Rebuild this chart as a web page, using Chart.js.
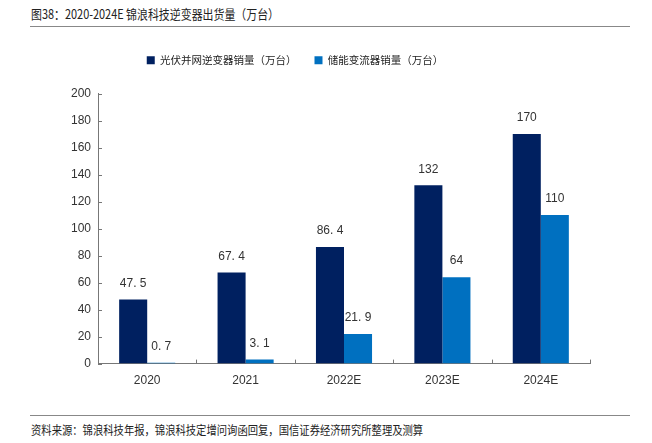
<!DOCTYPE html>
<html>
<head>
<meta charset="utf-8">
<script src="https://cdn.jsdelivr.net/npm/chart.js@4.4.0/dist/chart.umd.min.js"></script>
<style>
  body { margin: 0; background: #fff; font-family: "Noto Sans CJK SC", sans-serif; }
  #wrap { position: relative; width: 652px; height: 443px; }
  #title { position: absolute; left: 31px; top: 4px; font-size: 13px; color: #222; white-space: nowrap;
           transform: scaleX(0.84); transform-origin: left top; }
  .rule { position: absolute; left: 30px; width: 600px; height: 1px; background: #888; }
  #source { position: absolute; left: 31px; top: 421px; font-size: 12px; color: #222; white-space: nowrap;
            transform: scaleX(0.86); transform-origin: left top; }
  #cv { position: absolute; left: 0; top: 0; }
</style>
</head>
<body>
<div id="wrap">
  <div id="title">图38：2020-2024E 锦浪科技逆变器出货量（万台）</div>
  <div class="rule" style="top:26px"></div>
  <canvas id="cv" width="652" height="410"></canvas>
  <div class="rule" style="top:415px"></div>
  <div id="source">资料来源：锦浪科技年报，锦浪科技定增问询函回复，国信证券经济研究所整理及测算</div>
</div>
<script>
// categorias y series
const anios = ["2020", "2021", "2022E", "2023E", "2024E"];
const nombreFV = "光伏并网逆变器销量（万台）";
const nombreAlm = "储能变流器销量（万台）";
const ventasFV = [47.5, 67.4, 86.4, 132, 170];
const ventasAlm = [0.7, 3.1, 21.9, 64, 110];
const etiquetasFV = ["47. 5", "67. 4", "86. 4", "132", "170"];
const etiquetasAlm = ["0. 7", "3. 1", "21. 9", "64", "110"];

// espacio extra debajo de la leyenda
const leyendaPlugin = {
  id: "leyendaAlta",
  beforeInit(chart) {
    const fitOriginal = chart.legend.fit;
    chart.legend.fit = function () {
      fitOriginal.bind(chart.legend)();
      this.height += 18;
    };
  }
};

// etiquetas de valores sobre las barras
const valoresPlugin = {
  id: "valores",
  afterDatasetsDraw(chart) {
    const ctx = chart.ctx;
    const listas = [etiquetasFV, etiquetasAlm];
    ctx.save();
    ctx.font = "12px 'Liberation Sans', Arial, sans-serif";
    ctx.fillStyle = "#333";
    ctx.textAlign = "center";
    ctx.textBaseline = "bottom";
    chart.data.datasets.forEach((ds, i) => {
      chart.getDatasetMeta(i).data.forEach((bar, j) => {
        ctx.fillText(listas[i][j], bar.x, bar.y - 10);
      });
    });
    ctx.restore();
  }
};

// marcas hacia dentro en los ejes
const marcasPlugin = {
  id: "marcas",
  afterDraw(chart) {
    const ctx = chart.ctx;
    const x = chart.scales.x, y = chart.scales.y;
    const area = chart.chartArea;
    ctx.save();
    ctx.strokeStyle = "#777";
    ctx.lineWidth = 1;
    ctx.beginPath();
    y.ticks.forEach((t) => {
      const py = Math.round(y.getPixelForValue(t.value)) + 0.5;
      ctx.moveTo(area.left, py);
      ctx.lineTo(area.left + 4, py);
    });
    for (let i = 0; i <= anios.length; i++) {
      const px = Math.round(x.getPixelForValue(i - 0.5)) + 0.5;
      ctx.moveTo(px, area.bottom);
      ctx.lineTo(px, area.bottom - 4);
    }
    ctx.stroke();
    ctx.restore();
  }
};

new Chart(document.getElementById("cv"), {
  type: "bar",
  data: {
    labels: anios,
    datasets: [
      { label: nombreFV, data: ventasFV, backgroundColor: "#002060" },
      { label: nombreAlm, data: ventasAlm, backgroundColor: "#0070C0" }
    ]
  },
  options: {
    responsive: false,
    animation: false,
    layout: { padding: { top: 37, right: 62, bottom: 12, left: 0 } },
    datasets: { bar: { categoryPercentage: 0.57, barPercentage: 1.0 } },
    plugins: {
      legend: {
        position: "top",
        labels: {
          boxWidth: 8,
          boxHeight: 8,
          padding: 18,
          color: "#222",
          font: { family: "'Noto Sans CJK SC', sans-serif", size: 10.5 }
        }
      },
      tooltip: { enabled: false }
    },
    scales: {
      x: {
        grid: { display: false, drawTicks: false },
        border: { color: "#777" },
        ticks: {
          padding: 10,
          color: "#333",
          font: { family: "'Liberation Sans', Arial, sans-serif", size: 12 }
        }
      },
      y: {
        min: 0,
        max: 200,
        afterFit(scale) { scale.width = 98; },
        grid: { display: false, drawTicks: false },
        border: { color: "#777" },
        ticks: {
          stepSize: 20,
          padding: 7,
          color: "#333",
          font: { family: "'Liberation Sans', Arial, sans-serif", size: 12 }
        }
      }
    }
  },
  plugins: [leyendaPlugin, valoresPlugin, marcasPlugin]
});
</script>
</body>
</html>
